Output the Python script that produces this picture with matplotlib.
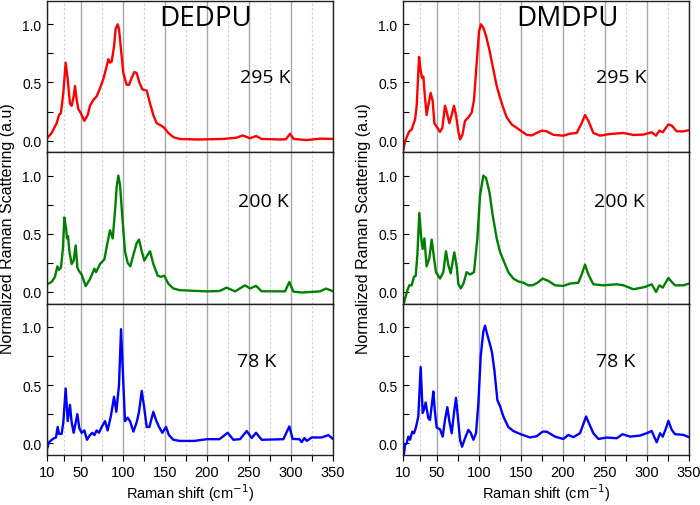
import matplotlib
matplotlib.use("Agg")
import matplotlib.pyplot as plt

# ---- data (Raman shift, normalized intensity) ----
# DEDPU
dedpu_295_x = [10, 15.5, 21.5, 24.3, 26.6, 29.4, 32.2, 34.6, 37.3, 39.3, 41.7, 43.3, 45.3, 47.3, 50,
               54.4, 58.4, 61.1, 65.1, 69, 73, 77, 81, 83, 84.9, 86.9, 89.7, 91.6, 94, 95.6, 98,
               100.8, 104.7, 107.5, 110.7, 113.8, 116.6, 119.8, 123.4, 128.5, 132.5, 136.4, 140.4,
               145.5, 149.5, 154.3, 160.2, 168, 190, 220, 235, 242.7, 251.4, 258.5, 265, 287, 294,
               299, 303, 318.8, 334.6, 350]
dedpu_295_y = [0.02, 0.066, 0.15, 0.22, 0.24, 0.41, 0.67, 0.53, 0.32, 0.30, 0.38, 0.47, 0.35, 0.27, 0.24,
               0.17, 0.22, 0.30, 0.35, 0.38, 0.45, 0.53, 0.64, 0.70, 0.67, 0.68, 0.81, 0.96, 1.0, 0.96, 0.78,
               0.58, 0.48, 0.48, 0.54, 0.59, 0.58, 0.50, 0.44, 0.43, 0.32, 0.22, 0.15,
               0.13, 0.11, 0.066, 0.03, 0.014, 0.01, 0.015, 0.025, 0.045, 0.02, 0.04, 0.015, 0.01, 0.012,
               0.06, 0.015, 0.005, 0.017, 0.015]

dedpu_200_x = [10, 15.5, 19.5, 22.3, 24.3, 26.6, 29, 30.6, 32.6, 33.8, 35, 36.6, 39.3, 41.7, 44.1, 46.1,
               48, 51.2, 56, 61.1, 66.3, 68.3, 73, 78.2, 82.1, 84.9, 88.1, 90.9, 92.8, 94.8, 96.8, 99.6,
               102.7, 105.9, 109, 112.7, 116.6, 119.4, 122.6, 125.7, 129.7, 132.5, 136.4, 141.6, 145.5,
               149.5, 154.3, 160.2, 168, 200, 215, 223.6, 233.5, 245.4, 251.4, 258.5, 265.2, 293, 298.1,
               302.9, 312.8, 334.6, 341.7, 350]
dedpu_200_y = [0.066, 0.086, 0.13, 0.22, 0.19, 0.21, 0.38, 0.64, 0.55, 0.46, 0.48, 0.35, 0.24, 0.27, 0.40, 0.21,
               0.18, 0.15, 0.05, 0.11, 0.20, 0.17, 0.24, 0.28, 0.43, 0.53, 0.46, 0.70, 0.90, 1.0, 0.92, 0.64,
               0.35, 0.25, 0.22, 0.32, 0.42, 0.45, 0.35, 0.27, 0.32, 0.35, 0.24, 0.14, 0.13,
               0.14, 0.07, 0.03, 0.015, 0.005, 0.008, 0.037, 0.005, 0.057, 0.03, 0.052, 0.006, 0.005, 0.086,
               0.003, -0.005, 0.005, 0.029, 0.006]

dedpu_78_x = [10, 12.4, 17.5, 20.7, 22.7, 24.3, 27.4, 29.4, 32.2, 34.6, 37.3, 39.3, 41.7, 46.1, 48.4,
              51.2, 54.4, 57.6, 61.1, 63.9, 66.3, 69, 71.8, 75, 79, 82.1, 86.1, 89.7, 92.4, 95.6, 98, 100,
              102.7, 105.9, 108.7, 112.7, 116.6, 119.4, 122.6, 125.3, 128.5, 131.7, 136.4, 139.6, 143.2,
              147.1, 151.5, 155, 160.2, 168, 185, 200, 215, 224.8, 231.6, 239.5, 247.4, 253.4, 258.5,
              265.2, 291, 298.1, 302, 310, 312.8, 316, 318.8, 324.7, 336.6, 344.5, 350]
dedpu_78_y = [-0.05, 0.01, 0.04, 0.05, 0.14, 0.08, 0.08, 0.18, 0.47, 0.19, 0.33, 0.18, 0.09, 0.25, 0.13,
              0.09, 0.11, 0.03, 0.07, 0.09, 0.07, 0.11, 0.09, 0.14, 0.19, 0.11, 0.24, 0.40, 0.27, 0.50, 0.98, 0.64,
              0.19, 0.22, 0.19, 0.10, 0.18, 0.27, 0.45, 0.32, 0.14, 0.14, 0.27, 0.20, 0.14,
              0.09, 0.14, 0.07, 0.03, 0.02, 0.02, 0.035, 0.035, 0.09, 0.03, 0.035, 0.105, 0.045, 0.09,
              0.03, 0.035, 0.145, 0.037, 0.035, 0.01, 0.045, 0.02, 0.05, 0.05, 0.07, 0.037]

# DMDPU
dmdpu_295_x = [10.4, 12.4, 14.4, 17.5, 20.3, 22.3, 24.3, 26.3, 29.1, 31, 32.6, 34.2, 35.8, 38.1, 40.5,
               42.9, 45.3, 47.3, 50, 54, 56.8, 59.9, 61.9, 65.1, 67.9, 70.6, 73, 75.8, 77.8, 80.6, 83.7,
               87.7, 91.6, 94.4, 97.6, 100.4, 102.7, 105.5, 108.7, 112.7, 116.6, 121.4, 125.3, 129.3,
               133.3, 139.2, 145.2, 151.1, 157, 163, 168.9, 174.9, 180.8, 188.8, 200.6, 208.6, 216.5,
               222.4, 226.4, 230.4, 236.3, 244.2, 256.1, 272, 283.9, 295.8, 305.7, 310.8, 314.8, 318.8,
               325.5, 329.5, 335.4, 343.3, 350]
dmdpu_295_y = [-0.08, -0.005, 0.03, 0.08, 0.095, 0.14, 0.18, 0.30, 0.72, 0.60, 0.54, 0.55, 0.40, 0.22, 0.32,
               0.41, 0.34, 0.15, 0.12, 0.075, 0.11, 0.30, 0.25, 0.15, 0.22, 0.30, 0.22, 0.08, 0.01, 0.05, 0.17,
               0.20, 0.24, 0.35, 0.67, 0.94, 1.0, 0.97, 0.90, 0.78, 0.64, 0.47, 0.37, 0.28,
               0.20, 0.14, 0.11, 0.08, 0.05, 0.045, 0.066, 0.086, 0.08, 0.05, 0.043, 0.06, 0.066,
               0.15, 0.22, 0.17, 0.066, 0.043, 0.057, 0.066, 0.049, 0.052, 0.072, 0.043, 0.086, 0.072,
               0.14, 0.13, 0.08, 0.08, 0.09]

dmdpu_200_x = [10.4, 12.4, 15.2, 17.5, 20.3, 23.1, 25.1, 27.1, 29.4, 31.8, 33.4, 35.4, 38.1, 41.3, 44.1,
               46.9, 49.2, 54, 57.9, 61.1, 63.9, 66.7, 69, 71, 73.8, 75.8, 78.6, 81.8, 85.7, 89.7, 94.4,
               98.4, 101.6, 105.5, 108.7, 112.7, 116.6, 121.4, 125.3, 130.1, 135.2, 141.2, 147.1, 153,
               158.9, 164, 169.7, 176, 182.8, 190.7, 200.6, 208.6, 218.5, 222.4, 226.4, 230.4, 236.3,
               248.2, 264, 272, 283.9, 297.8, 305.7, 310.8, 314.8, 318.8, 325.5, 329.5, 333.4, 343.3, 350]
dmdpu_200_y = [-0.11, -0.06, 0.014, 0.057, 0.057, 0.13, 0.14, 0.32, 0.68, 0.45, 0.37, 0.46, 0.22, 0.29, 0.45,
               0.29, 0.17, 0.115, 0.17, 0.35, 0.23, 0.16, 0.26, 0.34, 0.22, 0.07, 0.03, 0.07, 0.17, 0.15, 0.17,
               0.46, 0.83, 1.0, 0.98, 0.86, 0.66, 0.46, 0.345, 0.26, 0.17, 0.115, 0.09, 0.08,
               0.057, 0.057, 0.078, 0.115, 0.095, 0.057, 0.052, 0.072, 0.08, 0.15, 0.235, 0.15, 0.066,
               0.057, 0.066, 0.057, 0.023, 0.043, 0.066, 0.0, 0.057, 0.037, 0.12, 0.086, 0.057, 0.057, 0.072]

dmdpu_78_x = [11.2, 12.4, 14.4, 16.3, 18.3, 21.1, 23.1, 25.5, 28.2, 31, 33.4, 35, 36.9, 40.1, 42.1, 44.5,
              46.1, 47.7, 50, 54, 57.2, 59.9, 62.7, 65.1, 67.9, 70.6, 73, 75.4, 77.8, 80.2, 83.7, 87.7,
              90.5, 93.7, 96.8, 99.6, 102.4, 105.5, 107.5, 110.3, 113.4, 115.8, 118.6, 122.2, 125.3,
              129.3, 135.2, 141.2, 147.1, 153, 161, 168.9, 176, 180.8, 190.7, 200.6, 206.6, 212.5, 220.4,
              224.4, 227.6, 231.5, 236.3, 242.3, 252.2, 264, 271.1, 279.9, 291.8, 301.7, 305.7, 308.5,
              311.6, 315.6, 318.8, 322.7, 325.5, 329.5, 333.4, 343.3, 350]
dmdpu_78_y = [-0.09, -0.014, 0.0, 0.057, 0.03, 0.10, 0.086, 0.14, 0.23, 0.655, 0.26, 0.29, 0.35, 0.215, 0.20, 0.345,
              0.445, 0.29, 0.135, 0.12, 0.057, 0.20, 0.31, 0.19, 0.086, 0.26, 0.39, 0.215, 0.03, -0.03, 0.043, 0.115,
              0.09, 0.03, 0.086, 0.345, 0.75, 0.96, 1.01, 0.93, 0.85, 0.78, 0.63, 0.37, 0.32,
              0.23, 0.14, 0.105, 0.086, 0.07, 0.05, 0.06, 0.10, 0.10, 0.057, 0.037, 0.072, 0.052, 0.086,
              0.165, 0.23, 0.165, 0.086, 0.037, 0.049, 0.043, 0.078, 0.057, 0.066, 0.092, 0.106, 0.057,
              0.009, 0.086, 0.057, 0.13, 0.193, 0.115, 0.078, 0.072, 0.052]

temps = ["295 K", "200 K", "78 K"]
colors = ["#ff0000", "#008000", "#0000ff"]
x_ticks = [10, 50, 100, 150, 200, 250, 300, 350]
x_minor = [30, 75, 125, 175, 225, 275, 325]

left_series = [(dedpu_295_x, dedpu_295_y), (dedpu_200_x, dedpu_200_y), (dedpu_78_x, dedpu_78_y)]
right_series = [(dmdpu_295_x, dmdpu_295_y), (dmdpu_200_x, dmdpu_200_y), (dmdpu_78_x, dmdpu_78_y)]

# label positions in data coords (x, y) per panel row
label_pos_left = [(269, 0.55), (267, 0.78), (259, 0.71)]
label_pos_right = [(270, 0.55), (267, 0.78), (263, 0.71)]

plt.rcParams['font.family'] = ['Liberation Sans', 'DejaVu Sans']
title_font = ['Open Sans', 'DejaVu Sans']

fig = plt.figure(figsize=(7, 5.06), dpi=100)

W, H = 700.0, 506.0
panel_h = 151.3 / H
tops = [2, 153.3, 304.6]


def style_axes(ax, bottom):
    ax.set_xlim(10, 350)
    ax.set_ylim(-0.1, 1.2)
    ax.set_xticks(x_ticks)
    ax.set_xticks(x_minor, minor=True)
    ax.set_yticks([0.0, 0.5, 1.0])
    ax.set_yticks([0.25, 0.75], minor=True)
    ax.set_yticklabels(["0.0", "0.5", "1.0"])
    ax.grid(True, which='major', axis='x', color='#a8a8a8', linewidth=1.0, linestyle='-')
    ax.grid(True, which='minor', axis='x', color='#d0d0d0', linewidth=0.8, linestyle=(0, (2, 2)))
    ax.set_axisbelow(True)
    ax.tick_params(axis='y', which='both', direction='in', length=4, width=0.8, labelsize=10, pad=4)
    ax.tick_params(axis='x', which='both', direction='out', length=4, width=0.8, labelsize=10.5, pad=3)
    if not bottom:
        ax.tick_params(axis='x', labelbottom=False)
    for s in ax.spines.values():
        s.set_linewidth(1.0)
        s.set_color('#222222')


for col, (x0, series, lpos, name, name_x) in enumerate([
        (47, left_series, label_pos_left, "DEDPU", 198),
        (403, right_series, label_pos_right, "DMDPU", 205)]):
    axes = []
    for row in range(3):
        bottom_px = tops[row] + 151.3
        ax = fig.add_axes([x0 / W, 1 - bottom_px / H, 286 / W, panel_h])
        xs, ys = series[row]
        ax.plot(xs, ys, color=colors[row], linewidth=1.7, solid_joinstyle='round')
        style_axes(ax, row == 2)
        ax.text(lpos[row][0], lpos[row][1], temps[row], ha='center', va='center',
                fontsize=14, family=title_font)
        axes.append(ax)
    axes[0].text(name_x, 1.05, name, ha='center', va='center', fontsize=20, family=title_font)
    axes[1].set_ylabel("Normalized Raman Scattering (a.u)", fontsize=11.5, labelpad=5)
    axes[2].set_xlabel("Raman shift (cm$^{-1}$)", fontsize=10.5, labelpad=2)

fig.savefig("out.png", dpi=100)
